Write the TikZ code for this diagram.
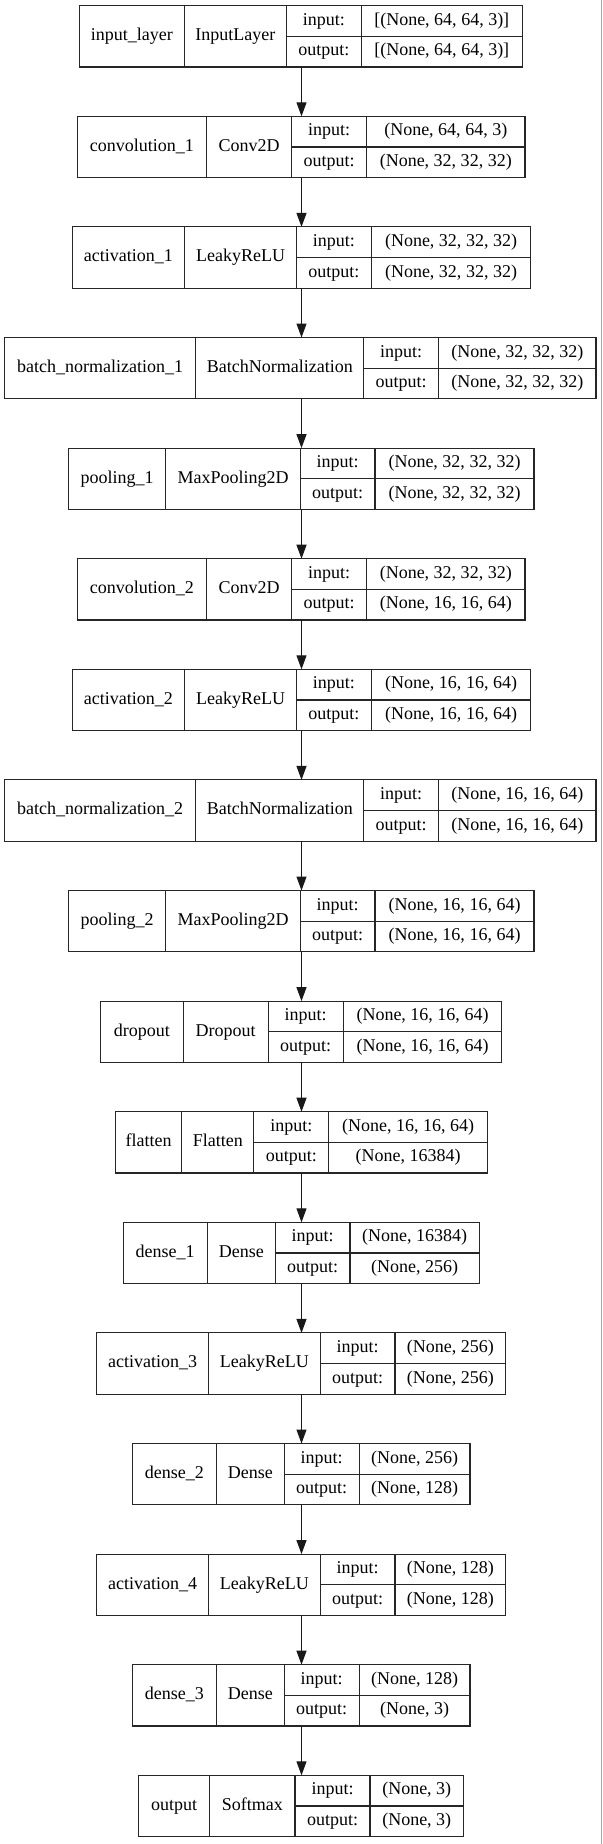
\documentclass[tikz,border=0pt]{standalone}
\usepackage{fontspec}
\setmainfont{Liberation Serif}
\usetikzlibrary{arrows.meta}
\begin{document}
\begin{tikzpicture}[x=1bp,y=-1bp,
  cell/.style={draw=black!85, line width=1.1bp, inner sep=0pt, outer sep=0pt,
    font=\fontsize{18bp}{20bp}\selectfont, text height=12.5bp, text depth=4bp,
    anchor=north west, align=center},
  arr/.style={draw=black!90, line width=1.1bp, -{Triangle[length=14bp,width=10bp]}}]
\fill[white] (0,0) rectangle (603,1844);
\useasboundingbox (0,0) rectangle (603,1844);
\draw[black!35, line width=1.5bp] (601.5,0) -- (601.5,1844);
\coordinate (ax) at (301.5,0);
\def\H{61.3}
\foreach \i/\lx/\xa/\xb/\xc/\rx/\nm/\ty/\ip/\op in {
 0/79.6/184.2/286.5/361.2/522.3/input\_layer/InputLayer/{[(None, 64, 64, 3)]}/{[(None, 64, 64, 3)]},
 1/77.3/206.5/291.5/366.5/525/convolution\_1/Conv2D/{(None, 64, 64, 3)}/{(None, 32, 32, 32)},
 2/72.3/184.6/296.5/371.2/530.8/activation\_1/LeakyReLU/{(None, 32, 32, 32)}/{(None, 32, 32, 32)},
 3/4.6/195.8/363.8/438.5/596/batch\_normalization\_1/BatchNormalization/{(None, 32, 32, 32)}/{(None, 32, 32, 32)},
 4/68.5/165.8/300.4/375/534/pooling\_1/MaxPooling2D/{(None, 32, 32, 32)}/{(None, 32, 32, 32)},
 5/77.3/206.5/291.5/366.5/525/convolution\_2/Conv2D/{(None, 32, 32, 32)}/{(None, 16, 16, 64)},
 6/72.3/184.6/296.5/371.2/530.8/activation\_2/LeakyReLU/{(None, 16, 16, 64)}/{(None, 16, 16, 64)},
 7/4.6/195.8/363.8/438.5/596/batch\_normalization\_2/BatchNormalization/{(None, 16, 16, 64)}/{(None, 16, 16, 64)},
 8/68.5/165.8/300.4/375/534/pooling\_2/MaxPooling2D/{(None, 16, 16, 64)}/{(None, 16, 16, 64)},
 9/100.8/183.1/268.1/343.1/501.9/dropout/Dropout/{(None, 16, 16, 64)}/{(None, 16, 16, 64)},
 10/115.4/181.9/253.8/328.8/487.3/flatten/Flatten/{(None, 16, 16, 64)}/{(None, 16384)},
 11/123.1/207.3/275.4/350/479.2/dense\_1/Dense/{(None, 16384)}/{(None, 256)},
 12/96.5/208.5/320.4/395/505.8/activation\_3/LeakyReLU/{(None, 256)}/{(None, 256)},
 13/132.3/216.5/284.2/359.2/470/dense\_2/Dense/{(None, 256)}/{(None, 128)},
 14/96.5/208.5/320.4/395/505.8/activation\_4/LeakyReLU/{(None, 128)}/{(None, 128)},
 15/132.3/216.5/284.2/359.2/470/dense\_3/Dense/{(None, 128)}/{(None, 3)},
 16/138.8/209.6/295/370/463.5/output/Softmax/{(None, 3)}/{(None, 3)}}
{
  \pgfmathsetmacro{\T}{5.7+110.6*\i}
  \pgfmathsetmacro{\M}{\T+\H/2}
  \node[cell, minimum width={(\xa-\lx)*1.00375pt}, minimum height={\H*1.00375pt}] (n\i) at (\lx,\T) {\nm};
  \node[cell, minimum width={(\xb-\xa)*1.00375pt}, minimum height={\H*1.00375pt}] (t\i) at (\xa,\T) {\ty};
  \node[cell, minimum width={(\xc-\xb)*1.00375pt}, minimum height={\H/2*1.00375pt}] (il\i) at (\xb,\T) {input:};
  \node[cell, minimum width={(\xc-\xb)*1.00375pt}, minimum height={\H/2*1.00375pt}] (ol\i) at (\xb,\M) {output:};
  \node[cell, minimum width={(\rx-\xc)*1.00375pt}, minimum height={\H/2*1.00375pt}] (iv\i) at (\xc,\T) {\ip};
  \node[cell, minimum width={(\rx-\xc)*1.00375pt}, minimum height={\H/2*1.00375pt}] (ov\i) at (\xc,\M) {\op};
}
\foreach \i [evaluate=\i as \j using int(\i+1)] in {0,...,15}
  \draw[arr] (n\i.south -| ax) -- (n\j.north -| ax);
\end{tikzpicture}
\end{document}
